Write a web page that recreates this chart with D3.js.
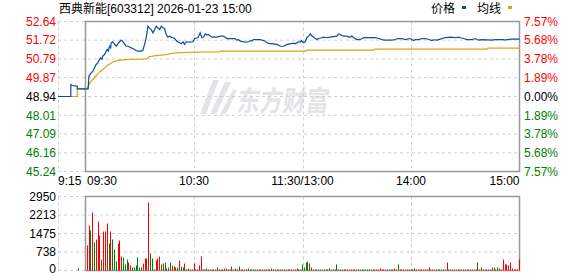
<!DOCTYPE html>
<html lang="zh">
<head>
<meta charset="UTF-8">
<title>西典新能 分时</title>
<script src="https://d3js.org/d3.v7.min.js"></script>
<style>
  body, html { margin: 0; background: #fff; }
  svg { display: block; }
  text { font-family: "Liberation Sans", Arial, "Noto Sans CJK SC", sans-serif; font-size: 12px; }
</style>
</head>
<body>
<svg width="578" height="276"></svg>
<script>
// ---- data ----
const prevClose = 48.94;
const priceTicks = [52.64, 51.72, 50.79, 49.87, 48.94, 48.01, 47.09, 46.16, 45.24];
const pctTicks = ["7.57%", "5.68%", "3.78%", "1.89%", "0.00%", "1.89%", "3.78%", "5.68%", "7.57%"];
const volTicks = [2950, 2213, 1475, 738, 0];
const timeTicks = [0, 60, 120, 180, 240];
const timeLabels = ["09:30", "10:30", "11:30/13:00", "14:00", "15:00"];

// pre-market (9:15-9:30), minutes from 9:15
const preMin = [0, 7, 7, 7.9, 9.7, 10.5, 10.5, 15];
const prePrice = [48.94, 48.94, 49.53, 49.48, 49.45, 49.45, 49.32, 49.32];
const preAvgMin = [0, 10.5, 10.5, 15];
const preAvg = [48.94, 48.94, 49.32, 49.32];
const preVolMin = [11];
const preVol = [80];

// main session, minutes from 9:30 (lunch removed)
const priceMin = [0,1.5,1.9,3.2,4.1,5,5.9,6.8,7.8,8.3,9.1,9.6,10.5,11.5,12,12.6,13.3,13.9,14.2,15.1,16.1,17,17.9,18.8,19.8,20.7,21.6,22.5,23.4,24.4,25.3,26.2,27.1,28,29,30.8,31.7,32.7,33.6,34.5,35.4,36.3,37.3,38.2,39.1,40,41,41.9,42.8,43.7,44.6,45.6,46.5,47.4,48.3,49.3,50.2,51.1,52,53,53.9,54.8,55.7,57.5,59.4,60.3,62.2,63.4,64.4,65.3,66.2,67.1,68,69,69.9,72.7,73.6,74.5,76.3,78.2,81.9,82.8,83.7,84.6,85.6,87.4,88.3,90.2,91.1,92,92.9,96.6,97.5,98.5,99.4,100.3,101.2,104,105.8,106.8,107.7,109.5,110.5,111.4,113.2,115.1,116,116.9,117.8,118.8,119.3,120,120.6,121.5,122.4,123.4,124.3,125.2,126.1,127.1,128,128.9,130.7,131.7,133.5,135.3,139,139.9,140.9,141.8,142.7,144.6,145.5,146.4,147.3,148.3,150.1,151,152.9,153.8,160.3,162.1,163.9,165.8,169.5,171.3,172.8,175,176.9,178.7,179.6,180.5,181.5,182.4,184.2,186.1,187.9,189.8,191.6,192.5,194.4,196.2,197.1,199,201.7,204.5,206.4,207.3,209.1,211,213.7,215.6,216.5,217.4,219.3,224.8,226.6,231.2,232.2,233.1,235.9,240];
const priceVal = [49.32,49.32,49.95,50.11,50.19,50.36,50.52,50.60,50.77,50.85,50.77,50.93,51.01,51.18,51.26,51.18,51.42,51.34,51.59,51.64,51.51,51.42,51.54,51.64,51.72,51.64,51.54,51.42,51.42,51.38,51.34,51.31,51.26,51.21,51.18,51.18,51.21,51.51,51.84,52.41,52.30,52.25,52.08,52.25,52.41,52.33,52.25,52.41,52.33,52.30,52.00,51.87,51.92,51.87,51.84,51.80,51.70,51.64,51.59,51.54,51.64,51.51,51.64,51.62,51.64,51.80,51.84,52.08,51.84,51.87,52.03,51.97,52.00,51.92,51.87,51.87,51.89,51.92,51.92,51.80,51.80,51.79,51.72,51.74,51.67,51.64,51.62,51.64,51.70,51.67,51.75,51.75,51.72,51.70,51.67,51.59,51.56,51.54,51.51,51.47,51.42,51.42,51.46,51.51,51.54,51.57,51.54,51.59,51.64,51.62,51.70,51.64,51.59,51.64,51.84,51.92,52.03,51.92,51.87,51.80,51.75,51.80,51.84,51.87,51.84,51.87,51.92,52.03,52.00,51.95,51.92,51.92,51.87,51.87,51.92,51.84,51.75,51.75,51.79,51.84,51.84,51.80,51.75,51.72,51.72,51.75,51.80,51.80,51.75,51.79,51.80,51.75,51.70,51.75,51.75,51.80,51.80,51.75,51.70,51.74,51.72,51.77,51.80,51.84,51.87,51.84,51.87,51.84,51.80,51.75,51.75,51.80,51.75,51.72,51.75,51.72,51.75,51.75,51.72,51.75,51.77,51.77];

const avgMin = [0,0.8,1.9,3.2,4.1,5.6,6.8,8.3,9.6,11.1,12.4,13.9,15.1,17.9,20.7,23.4,33.6,35.1,39.1,44.6,48.3,53.9,61.2,73.9,74.5,121.9,122.4,159.7,160.2,222,222.5,240];
const avgVal = [49.32,49.32,49.53,49.70,49.78,49.94,50.06,50.19,50.27,50.39,50.49,50.57,50.64,50.72,50.75,50.77,50.78,50.90,50.96,51.01,51.08,51.11,51.13,51.14,51.18,51.18,51.23,51.23,51.28,51.28,51.33,51.33];

// one bar per minute, 9:31 .. 15:00
const volume = [997,1794,1594,2312,1116,1236,1953,1395,438,1555,1555,1873,1076,1555,1236,837,359,1076,1196,558,
  518,239,438,319,199,120,120,199,518,120,120,279,478,478,2711,678,478,40,399,478,
  558,239,279,319,80,120,319,199,159,120,120,399,159,120,279,40,80,40,40,279,
  40,40,199,558,40,40,80,40,40,40,40,40,120,40,40,40,80,80,40,40,
  159,40,80,40,159,40,40,40,40,80,40,40,40,40,40,40,40,40,40,40,
  40,40,80,40,40,40,40,40,40,40,40,40,40,40,40,40,80,40,40,239,
  120,319,359,279,120,40,40,40,40,40,40,40,40,40,80,40,40,40,239,40,
  40,40,40,40,40,40,40,40,40,40,40,40,40,40,40,40,40,40,40,40,
  40,40,80,40,40,40,40,40,40,40,80,40,239,40,40,40,40,40,40,40,
  40,80,40,40,40,40,40,40,40,120,40,40,40,40,40,40,40,40,40,319,
  40,40,40,40,40,40,40,40,40,40,40,40,40,40,40,40,319,40,120,40,
  40,40,40,40,120,120,40,120,80,40,438,239,239,199,319,80,40,40,40,438];
const volDir = "rrgrgrrrgrrrgrgggrrrgggrrggggggrrrrgggrrrgrggrgrrggrggrrrgrrgrrrgg" +
  "rggrgrrrgrrgrgrrgrgrgrrgrgggrrgrrgrrggrrrggrrgrrrrgrgggggrgrrggrgrgrgggrggrrgrrgrgrrgrgggg" +
  "grrgrrrrrrgggrrrggrrrgrrggrrrrrgrrrrrgrggrgrgrrrgrrgrrrgrrrrgrrgggrrrgggr";

// ---- layout ----
const svg = d3.select("svg");
const left = 58, x0 = 85.5, x1 = 519.5;
const red = "#ff0000", green = "#008000", gridC = "#cfcfcf", frameC = "#999999";

const xPre = d3.scaleLinear().domain([0, 15]).range([left, x0]);
const x = d3.scaleLinear().domain([0, 240]).range([x0, x1]);
const y = d3.scaleLinear().domain([45.24, 52.64]).range([171.5, 21.5]);
const yv = d3.scaleLinear().domain([0, 2950]).range([270.5, 196.5]);

// watermark
const wm = svg.append("g").attr("fill", "#e4e4e8");
wm.append("path")
  .attr("d", "M200,114 L213,80 L219,80 L206,114 Z M210,114 L225,82 L231,82 L216,114 Z M220,114 L233,90 L237,90 L226,114 Z");
wm.append("text").attr("x", 236).attr("y", 111)
  .attr("transform", "skewX(-8)").attr("transform-origin", "236 111")
  .attr("textLength", 92).attr("lengthAdjust", "spacingAndGlyphs")
  .style("font-size", "28px").style("font-weight", "bold")
  .style("font-family", "'Noto Sans CJK SC', sans-serif")
  .text("东方财富");

// grids
function hGrid(vals, scale) {
  svg.append("g").selectAll("line").data(vals).join("line")
    .attr("x1", left).attr("x2", x1)
    .attr("y1", d => scale(d)).attr("y2", d => scale(d))
    .attr("stroke", gridC).attr("stroke-dasharray", "3,3");
}
hGrid(priceTicks, y);
hGrid(volTicks, yv);

function vGrid(yTop, yBot) {
  svg.append("g").selectAll("line").data([60, 120, 180]).join("line")
    .attr("x1", d => Math.round(x(d)) + 0.5).attr("x2", d => Math.round(x(d)) + 0.5)
    .attr("y1", yTop).attr("y2", yBot)
    .attr("stroke", gridC).attr("stroke-dasharray", "3,3");
  svg.append("line").attr("x1", left + 0.5).attr("x2", left + 0.5)
    .attr("y1", yTop).attr("y2", yBot)
    .attr("stroke", gridC).attr("stroke-dasharray", "3,3");
}
vGrid(y(52.64), y(45.24));
vGrid(yv(2950), yv(0));

// frames
[[y(52.64), y(45.24)], [yv(2950), yv(0)]].forEach(([t, b]) => {
  svg.append("rect").attr("x", x0).attr("y", t).attr("width", x1 - x0).attr("height", b - t)
    .attr("fill", "none").attr("stroke", frameC).attr("stroke-width", 1.5);
});

// lines
const line = (xs) => d3.line().x(d => xs(d[0])).y(d => y(d[1]));
const avgPts = preAvgMin.map((m, i) => [m, preAvg[i]]);
const pricePre = preMin.map((m, i) => [m, prePrice[i]]);
svg.append("path").datum(avgPts).attr("d", line(xPre))
  .attr("fill", "none").attr("stroke", "#e0a010").attr("stroke-width", 1.2);
svg.append("path").datum(avgMin.map((m, i) => [m, avgVal[i]])).attr("d", line(x))
  .attr("fill", "none").attr("stroke", "#e0a010").attr("stroke-width", 1.2);
svg.append("path").datum(pricePre).attr("d", line(xPre))
  .attr("fill", "none").attr("stroke", "#0b4ea2").attr("stroke-width", 1.2);
svg.append("path").datum(priceMin.map((m, i) => [m, priceVal[i]])).attr("d", line(x))
  .attr("fill", "none").attr("stroke", "#0b4ea2").attr("stroke-width", 1.2);

// volume bars
svg.append("g").selectAll("rect").data(volume).join("rect")
  .attr("x", (d, i) => Math.floor(x(i + 1)))
  .attr("width", 1)
  .attr("y", d => yv(d))
  .attr("height", d => yv(0) - yv(d))
  .attr("fill", (d, i) => volDir[i] === "g" ? green : red);
svg.append("g").selectAll("rect").data(preVol).join("rect")
  .attr("x", (d, i) => Math.floor(xPre(preVolMin[i])))
  .attr("width", 1)
  .attr("y", d => yv(d))
  .attr("height", d => yv(0) - yv(d))
  .attr("fill", red);

// left price labels
svg.append("g").selectAll("text").data(priceTicks).join("text")
  .attr("x", 56).attr("y", d => y(d)).attr("dy", "0.36em")
  .attr("text-anchor", "end")
  .attr("fill", d => d > prevClose ? red : d < prevClose ? green : "#000")
  .text(d => d.toFixed(2));
// right pct labels
svg.append("g").selectAll("text").data(pctTicks).join("text")
  .attr("x", 524).attr("y", (d, i) => y(priceTicks[i])).attr("dy", "0.36em")
  .attr("fill", (d, i) => i < 4 ? red : i > 4 ? green : "#000")
  .text(d => d);
// volume labels
svg.append("g").selectAll("text").data(volTicks).join("text")
  .attr("x", 56).attr("y", d => yv(d)).attr("dy", d => d === 0 ? "0.2em" : "0.36em")
  .attr("text-anchor", "end").attr("fill", "#000")
  .text(d => d);

// time labels
svg.append("text").attr("x", left).attr("y", 185).text("9:15");
svg.append("g").selectAll("text").data(timeTicks).join("text")
  .attr("x", (d, i) => i === 0 ? x0 + 1.5 : x(d))
  .attr("y", 185)
  .attr("text-anchor", (d, i) => i === 0 ? "start" : i === 4 ? "end" : "middle")
  .text((d, i) => timeLabels[i]);

// title & legend
svg.append("text").attr("x", 59).attr("y", 13).attr("fill", "#000")
  .text("西典新能[603312] 2026-01-23 15:00");
svg.append("text").attr("x", 431).attr("y", 13).text("价格");
svg.append("rect").attr("x", 462).attr("y", 6).attr("width", 4).attr("height", 3).attr("fill", "#0b4ea2");
svg.append("text").attr("x", 477).attr("y", 13).text("均线");
svg.append("rect").attr("x", 508).attr("y", 6).attr("width", 4).attr("height", 3).attr("fill", "#e0a010");
</script>
</body>
</html>
